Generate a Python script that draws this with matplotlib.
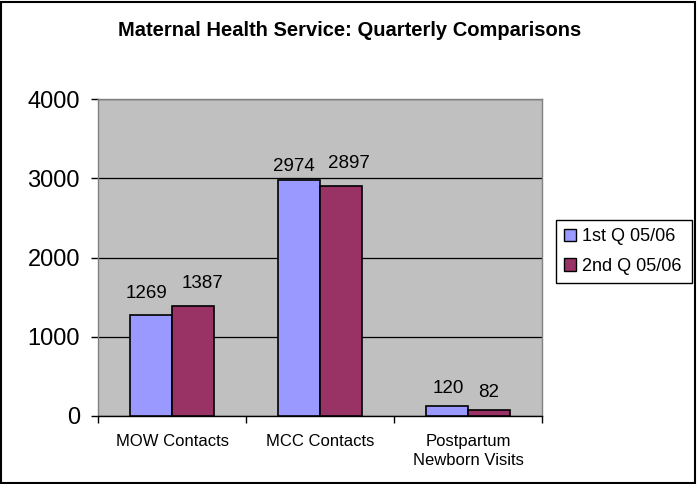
import matplotlib
matplotlib.use("Agg")
import matplotlib.pyplot as plt
import numpy as np
from matplotlib.patches import Rectangle

plt.rcParams['font.family'] = ['Liberation Sans', 'DejaVu Sans']

categories = ["MOW Contacts", "MCC Contacts", "Postpartum\nNewborn Visits"]
series_names = ["1st Q 05/06", "2nd Q 05/06"]
q1_values = [1269, 2974, 120]
q2_values = [1387, 2897, 82]
y_ticks = [0, 1000, 2000, 3000, 4000]
title = "Maternal Health Service: Quarterly Comparisons"

colors = ["#9999FF", "#993366"]
# label offsets (dx, baseline gap above bar top), in pixels (style only)
q1_label_off = [(-4, 17), (-5, 9), (1, 13)]
q2_label_off = [(9, 18), (8, 18), (0, 13)]

fig = plt.figure(figsize=(6.97, 4.84), dpi=100)
ax = fig.add_axes([98/697, 1-416/484, (542-98)/697, (416-99)/484])
ax.set_facecolor("#C0C0C0")

x = np.arange(len(categories))
w = 0.285
b1 = ax.bar(x - w/2, q1_values, w, color=colors[0], edgecolor="black", linewidth=1.2, label=series_names[0], zorder=3)
b2 = ax.bar(x + w/2, q2_values, w, color=colors[1], edgecolor="black", linewidth=1.2, label=series_names[1], zorder=3)

for bars, vals, offs in ((b1, q1_values, q1_label_off), (b2, q2_values, q2_label_off)):
    for rect, v, (dx, g) in zip(bars, vals, offs):
        ax.annotate(str(v), (rect.get_x() + rect.get_width()/2, rect.get_height()),
                    xytext=(dx*0.72, g*0.72), textcoords='offset points',
                    ha='center', va='baseline', fontsize=13.5, zorder=4)

ax.set_xlim(-0.5, len(categories) - 0.5)
ax.set_ylim(0, 4000)
ax.set_yticks(y_ticks)
ax.set_yticklabels([str(t) for t in y_ticks], fontsize=17)
ax.tick_params(axis='y', direction='out', length=5, width=1, pad=8, color='black')
ax.set_xticks(x)
ax.set_xticklabels(categories, fontsize=12, linespacing=1.3)
ax.set_xticks(np.arange(len(categories) + 1) - 0.5, minor=True)
ax.tick_params(axis='x', which='major', length=0, pad=13)
ax.tick_params(axis='x', which='minor', direction='out', length=5, width=1, color='black')

ax.yaxis.grid(True, color='black', linewidth=0.9, zorder=1)
ax.set_axisbelow(True)
for s in ['top', 'right', 'left']:
    ax.spines[s].set_color('#808080')
    ax.spines[s].set_linewidth(1)
ax.spines['bottom'].set_color('black')
ax.spines['bottom'].set_linewidth(1)

fig.text(350/697, 1-31/484, title, ha='center', va='center', fontsize=14.5, fontweight='bold')

leg = fig.legend(loc='center left',
                 bbox_to_anchor=(556/697, 1-251.5/484 - 0.05, 136/697, 0.1),
                 mode='expand', fontsize=13,
                 frameon=True, fancybox=False, edgecolor='black', framealpha=1,
                 handlelength=0.68, handleheight=0.68, handletextpad=0.3,
                 borderpad=0.45, labelspacing=0.7, borderaxespad=0)
leg.get_frame().set_linewidth(1)
for h in leg.legend_handles:
    h.set_edgecolor('black')
    h.set_linewidth(1)

fig.patches.append(Rectangle((1/697, 1/484), 694/697, 481/484, transform=fig.transFigure,
                             fill=False, edgecolor='black', linewidth=1.5))

fig.savefig("out.png", dpi=100)
